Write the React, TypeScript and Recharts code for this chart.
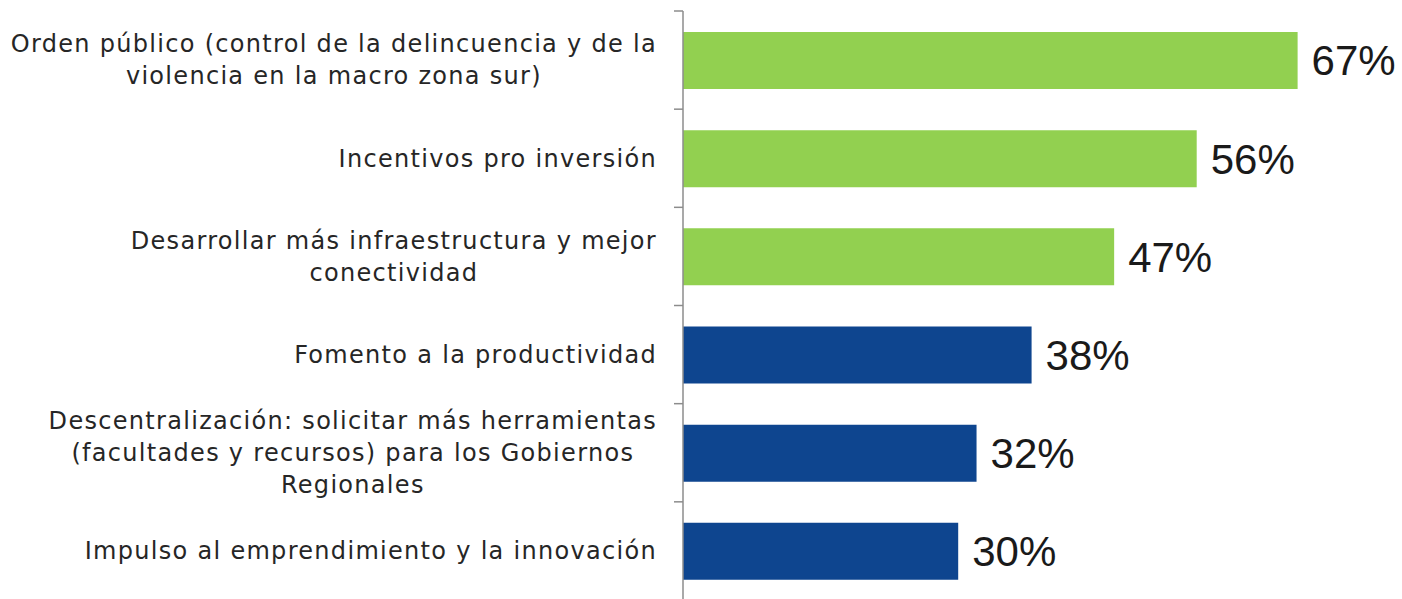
import { BarChart, Bar, XAxis, YAxis, Cell, LabelList } from 'recharts';

const categoryLines: string[][] = [
    ["Orden público (control de la delincuencia y de la", "violencia en la macro zona sur)"],
    ["Incentivos pro inversión"],
    ["Desarrollar más infraestructura y mejor", "conectividad"],
    ["Fomento a la productividad"],
    ["Descentralización: solicitar más herramientas", "(facultades y recursos) para los Gobiernos", "Regionales"],
    ["Impulso al emprendimiento y la innovación"],
];
const values = [67, 56, 47, 38, 32, 30];
const highlighted = [true, true, true, false, false, false];

const CHART_W = 1402;
const CHART_H = 600;
const MARGIN = { top: 11, right: 31, bottom: 0, left: 0 };
const AXIS_W = 683;
const LABEL_RIGHT = 657;
const LABEL_FONT = 24;
const LABEL_FAMILY = '"DejaVu Sans", sans-serif';
const LETTER_SP = 1.3;
const LINE_GAP = 32;
const GREEN = "#92D050";
const BLUE = "#0E458F";
const AXIS_GREY = "#8C8C8C";

const data = categoryLines.map((lines, i) => ({
    name: lines.join(" "),
    value: values[i],
}));

const band = (CHART_H - MARGIN.top - MARGIN.bottom) / data.length;

// widest line decides where a multi-line label is centred
let ctx: CanvasRenderingContext2D | null = null;
function textWidth(s: string) {
    if (!ctx) ctx = document.createElement("canvas").getContext("2d");
    if (!ctx) return s.length * LABEL_FONT * 0.6;
    ctx.font = `${LABEL_FONT}px "DejaVu Sans"`;
    return ctx.measureText(s).width + s.length * LETTER_SP;
}

// eslint-disable-next-line @typescript-eslint/no-explicit-any
function CategoryTick(props: any) {
    const { y, index } = props;
    const lines = categoryLines[index] ?? [];
    const w = Math.max(...lines.map(textWidth));
    const cx = LABEL_RIGHT - w / 2;
    const top = y - band / 2;
    return (
        <g>
            <line x1={AXIS_W - 9} x2={AXIS_W} y1={top} y2={top} stroke={AXIS_GREY} strokeWidth={1.5} />
            {index === data.length - 1 && (
                <line x1={AXIS_W - 9} x2={AXIS_W} y1={top + band} y2={top + band} stroke={AXIS_GREY} strokeWidth={1.5} />
            )}
            <text
                x={cx}
                y={y}
                textAnchor="middle"
                fill="#262626"
                fontSize={LABEL_FONT}
                fontFamily={LABEL_FAMILY}
                letterSpacing={LETTER_SP}
            >
                {lines.map((l, i) => (
                    <tspan key={i} x={cx} y={y + (i - (lines.length - 1) / 2) * LINE_GAP} dy="0.35em">
                        {l}
                    </tspan>
                ))}
            </text>
        </g>
    );
}

export default function App() {
    return (
        <div>
            <style>{`body{margin:0;overflow:hidden;background:#fff}`}</style>
            <BarChart width={CHART_W} height={CHART_H} data={data} layout="vertical" margin={MARGIN}>
                <XAxis type="number" domain={[0, 75]} hide />
                <YAxis
                    type="category"
                    dataKey="name"
                    width={AXIS_W}
                    tickLine={false}
                    axisLine={{ stroke: AXIS_GREY, strokeWidth: 1.5 }}
                    tick={<CategoryTick />}
                    interval={0}
                />
                <Bar dataKey="value" barSize={57} isAnimationActive={false}>
                    {data.map((_, i) => (
                        <Cell key={i} fill={highlighted[i] ? GREEN : BLUE} />
                    ))}
                    <LabelList
                        dataKey="value"
                        position="right"
                        offset={14}
                        formatter={(v: any) => `${v}%`}
                        fill="#1A1A1A"
                        fontSize={42}
                        fontFamily='"Liberation Sans", Arial, sans-serif'
                    />
                </Bar>
            </BarChart>
        </div>
    );
}
